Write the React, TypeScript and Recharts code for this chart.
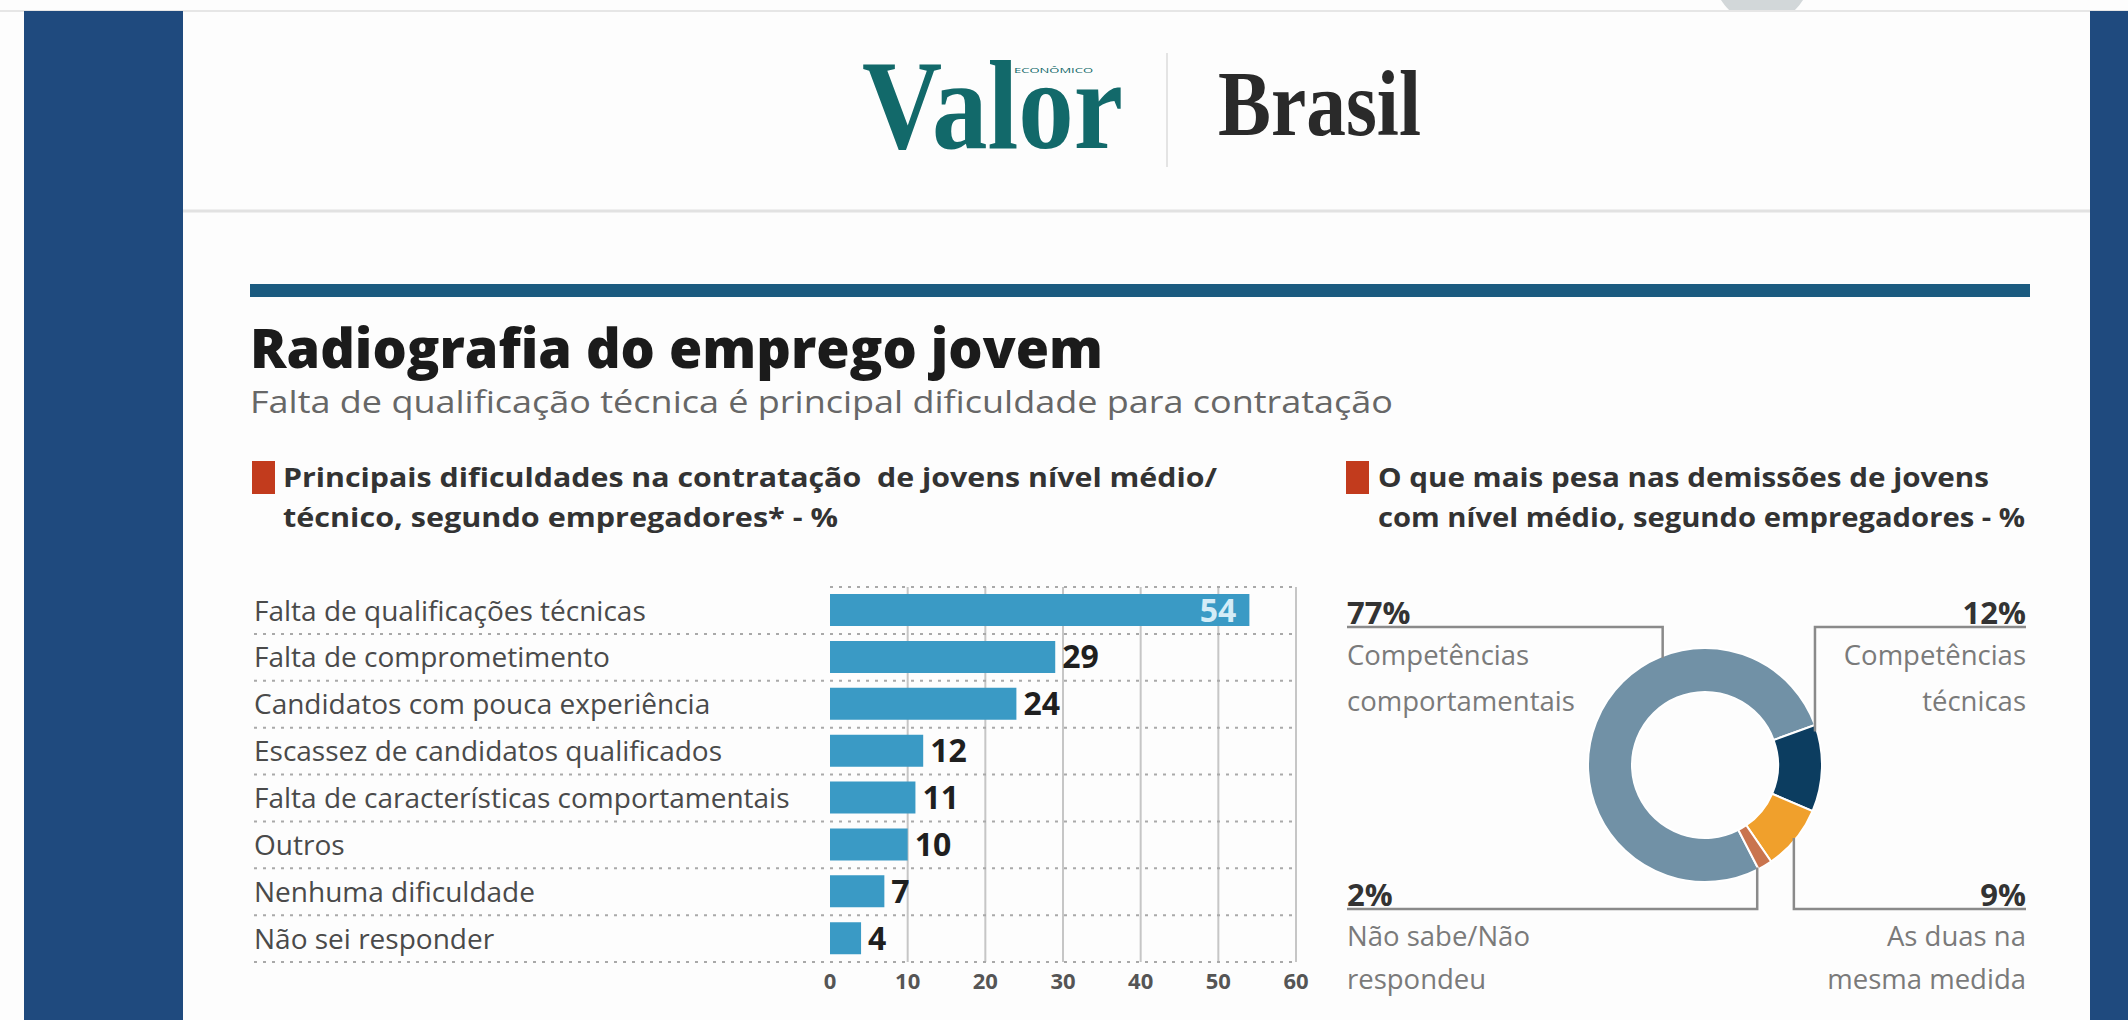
import React from 'react';
import { BarChart, Bar, XAxis, YAxis, CartesianGrid, LabelList, PieChart, Pie, Cell } from 'recharts';

const FONT = "'Open Sans', 'DejaVu Sans', sans-serif";
const SERIF = "'Liberation Serif', 'DejaVu Serif', serif";

// ---------- data ----------
const difficultyCategories = [
  'Falta de qualificações técnicas',
  'Falta de comprometimento',
  'Candidatos com pouca experiência',
  'Escassez de candidatos qualificados',
  'Falta de características comportamentais',
  'Outros',
  'Nenhuma dificuldade',
  'Não sei responder',
];
const difficultyValues = [54, 29, 24, 12, 11, 10, 7, 4];
const xTicks = [0, 10, 20, 30, 40, 50, 60];

const dismissalCategories = [
  'Competências comportamentais',
  'Competências técnicas',
  'As duas na mesma medida',
  'Não sabe/Não respondeu',
];
const dismissalLabelLines = [
  ['Competências', 'comportamentais'],
  ['Competências', 'técnicas'],
  ['As duas na', 'mesma medida'],
  ['Não sabe/Não', 'respondeu'],
];
const dismissalValues = [77, 12, 9, 2];
const dismissalColors = ['#7191a6', '#0c3d60', '#f0a02c', '#c9744e'];

// ---------- layout ----------
const BAR_LEFT = 240;
const BAR_TOP = 560;
const BAR_W = 1080;
const BAR_H = 440;
const BAR_MARGIN = { top: 27, right: 24, left: 0, bottom: 0 };
const Y_AXIS_W = 590;
const X_AXIS_H = 38;
const PLOT_H = BAR_H - BAR_MARGIN.top - BAR_MARGIN.bottom - X_AXIS_H;
const BAND = PLOT_H / difficultyCategories.length;
const LABEL_X = 14;

const PIE_LEFT = 1300;
const PIE_TOP = 560;
const PIE_W = 800;
const PIE_H = 460;

const leaderLayout: { side: 'left' | 'right'; row: 'top' | 'bottom'; angle: number | null }[] = [
  { side: 'left', row: 'top', angle: 111.6 },
  { side: 'right', row: 'top', angle: 17 },
  { side: 'right', row: 'bottom', angle: null },
  { side: 'left', row: 'bottom', angle: -63 },
];
const SIDE_X = { left: 47, right: 726 };
const ROW_Y = {
  top: { pct: 64, line: 67, l1: 105, l2: 151 },
  bottom: { pct: 346, line: 349, l1: 386, l2: 429 },
};

const barData = difficultyCategories.map((name, i) => ({ name, value: difficultyValues[i] }));
const pieData = dismissalCategories.map((name, i) => ({ name, value: dismissalValues[i] }));
const maxDifficulty = Math.max(...difficultyValues);

function CategoryTick(props: any) {
  const { y, payload } = props;
  return (
    <g>
      <text x={LABEL_X} y={y} dy="0.36em" fontSize={28} fill="#4a4a4a" fontFamily={FONT}>
        {payload.value}
      </text>
      <line
        x1={LABEL_X}
        x2={Y_AXIS_W}
        y1={y + BAND / 2}
        y2={y + BAND / 2}
        stroke="#a9a9a9"
        strokeWidth={2}
        strokeDasharray="3 6"
      />
    </g>
  );
}

function ValueLabel(props: any) {
  const { x, y, width, height, value } = props;
  const inside = value === maxDifficulty;
  return (
    <text
      x={inside ? x + width - 13 : x + width + 7}
      y={y + height / 2}
      dy="0.36em"
      textAnchor={inside ? 'end' : 'start'}
      fontSize={32}
      fontWeight={700}
      fill={inside ? '#d4ecf7' : '#1f1f1f'}
      fontFamily={FONT}
    >
      {value}
    </text>
  );
}

function renderPieLabel(props: any) {
  const { cx, cy, outerRadius, midAngle, index, value } = props;
  const L = leaderLayout[index];
  const ang = ((L.angle ?? midAngle) * Math.PI) / 180;
  const r = outerRadius - 2;
  const ax = cx + r * Math.cos(ang);
  const ay = cy - r * Math.sin(ang);
  const sx = SIDE_X[L.side];
  const ry = ROW_Y[L.row];
  const anchor = L.side === 'left' ? 'start' : 'end';
  const lines = dismissalLabelLines[index];
  return (
    <g key={`pl-${index}`}>
      <polyline
        points={`${sx},${ry.line} ${ax},${ry.line} ${ax},${ay}`}
        fill="none"
        stroke="#8a8a8a"
        strokeWidth={2.5}
      />
      <text x={sx} y={ry.pct} textAnchor={anchor} fontSize={31} fontWeight={700} fill="#333" fontFamily={FONT}>
        {value}%
      </text>
      <text x={sx} y={ry.l1} textAnchor={anchor} fontSize={27.5} fill="#7a7a7a" fontFamily={FONT}>
        {lines[0]}
      </text>
      <text x={sx} y={ry.l2} textAnchor={anchor} fontSize={27.5} fill="#7a7a7a" fontFamily={FONT}>
        {lines[1]}
      </text>
    </g>
  );
}

function Background() {
  return (
    <svg width={2128} height={1020} style={{ position: 'absolute', left: 0, top: 0 }}>
      <defs>
        <clipPath id="topclip">
          <rect x={0} y={0} width={2128} height={11} />
        </clipPath>
      </defs>
      <rect x={0} y={0} width={2128} height={1020} fill="#fdfdfd" />
      <circle cx={1762} cy={-25} r={48} fill="#d2d7d9" clipPath="url(#topclip)" />
      <line x1={0} x2={2128} y1={11} y2={11} stroke="#e6e6e6" strokeWidth={2} />
      <rect x={24} y={11} width={159} height={1009} fill="#1f4a7e" />
      <rect x={2090} y={11} width={38} height={1009} fill="#1f4a7e" />
      <line x1={183} x2={2090} y1={211} y2={211} stroke="#e2e2e2" strokeWidth={3} />

      {/* logo */}
      <text x={862} y={148} fontSize={128} fontWeight={700} fill="#12696a" fontFamily={SERIF} textLength={261} lengthAdjust="spacingAndGlyphs">
        Valor
      </text>
      <text x={1014} y={73} fontSize={8} fill="#12696a" fontFamily={FONT} textLength={79} lengthAdjust="spacingAndGlyphs">
        ECONÔMICO
      </text>
      <line x1={1167} x2={1167} y1={53} y2={167} stroke="#e4e4e4" strokeWidth={2} />
      <text x={1218} y={135} fontSize={94} fontWeight={700} fill="#2a2a2a" fontFamily={SERIF} textLength={203} lengthAdjust="spacingAndGlyphs">
        Brasil
      </text>

      {/* heading */}
      <rect x={250} y={284} width={1780} height={13} fill="#1b5b80" />
      <text x={250} y={368} fontSize={54} fontWeight={800} fill="#1b1b1b" fontFamily={FONT} textLength={853} lengthAdjust="spacingAndGlyphs">
        Radiografia do emprego jovem
      </text>
      <text x={250} y={413} fontSize={31} fill="#676767" fontFamily={FONT} textLength={1143} lengthAdjust="spacingAndGlyphs">
        Falta de qualificação técnica é principal dificuldade para contratação
      </text>

      {/* left panel header */}
      <rect x={252} y={461} width={23} height={33} fill="#c23b1d" />
      <text x={283} y={487} fontSize={27} fontWeight={700} fill="#333" fontFamily={FONT} textLength={934} lengthAdjust="spacingAndGlyphs" style={{ whiteSpace: 'pre' }}>
        {'Principais dificuldades na contratação  de jovens nível médio/'}
      </text>
      <text x={283} y={527} fontSize={27} fontWeight={700} fill="#333" fontFamily={FONT} textLength={555} lengthAdjust="spacingAndGlyphs">
        técnico, segundo empregadores* - %
      </text>

      {/* right panel header */}
      <rect x={1346} y={461} width={23} height={33} fill="#c23b1d" />
      <text x={1378} y={487} fontSize={27} fontWeight={700} fill="#333" fontFamily={FONT} textLength={611} lengthAdjust="spacingAndGlyphs">
        O que mais pesa nas demissões de jovens
      </text>
      <text x={1378} y={527} fontSize={27} fontWeight={700} fill="#333" fontFamily={FONT} textLength={647} lengthAdjust="spacingAndGlyphs">
        com nível médio, segundo empregadores - %
      </text>
    </svg>
  );
}

export default function App() {
  const n = difficultyCategories.length;
  return (
    <div style={{ position: 'absolute', left: 0, top: 0, width: 2128, height: 1020, overflow: 'hidden', fontFamily: FONT }}>
      <Background />
      <div style={{ position: 'absolute', left: BAR_LEFT, top: BAR_TOP }}>
        <BarChart width={BAR_W} height={BAR_H} data={barData} layout="vertical" margin={BAR_MARGIN} barSize={32}>
          <CartesianGrid horizontal={false} vertical={true} verticalValues={xTicks.filter((t) => t > 0)} stroke="#c6c6c6" strokeWidth={2} />
          <CartesianGrid
            vertical={false}
            horizontal={true}
            horizontalCoordinatesGenerator={({ offset }: any) =>
              Array.from({ length: n + 1 }, (_, i) => offset.top + (i * offset.height) / n)
            }
            stroke="#a9a9a9"
            strokeWidth={2}
            strokeDasharray="3 6"
          />
          <XAxis
            type="number"
            domain={[0, 60]}
            ticks={xTicks}
            interval={0}
            axisLine={false}
            tickLine={false}
            height={X_AXIS_H}
            tickMargin={5}
            tick={{ fontSize: 22, fontWeight: 700, fill: '#555', fontFamily: FONT }}
          />
          <YAxis
            type="category"
            dataKey="name"
            width={Y_AXIS_W}
            interval={0}
            axisLine={false}
            tickLine={false}
            tick={<CategoryTick />}
          />
          <Bar dataKey="value" fill="#3a9ac5" isAnimationActive={false}>
            <LabelList dataKey="value" content={<ValueLabel />} />
          </Bar>
        </BarChart>
      </div>
      <div style={{ position: 'absolute', left: PIE_LEFT, top: PIE_TOP }}>
        <PieChart width={PIE_W} height={PIE_H}>
          <Pie
            data={pieData}
            dataKey="value"
            nameKey="name"
            cx={400}
            cy={200}
            innerRadius={73}
            outerRadius={117}
            startAngle={297.2}
            endAngle={-62.8}
            stroke="#ffffff"
            strokeWidth={2}
            label={renderPieLabel}
            labelLine={false}
            isAnimationActive={false}
          >
            {pieData.map((d, i) => (
              <Cell key={d.name} fill={dismissalColors[i]} />
            ))}
          </Pie>
        </PieChart>
      </div>
    </div>
  );
}
